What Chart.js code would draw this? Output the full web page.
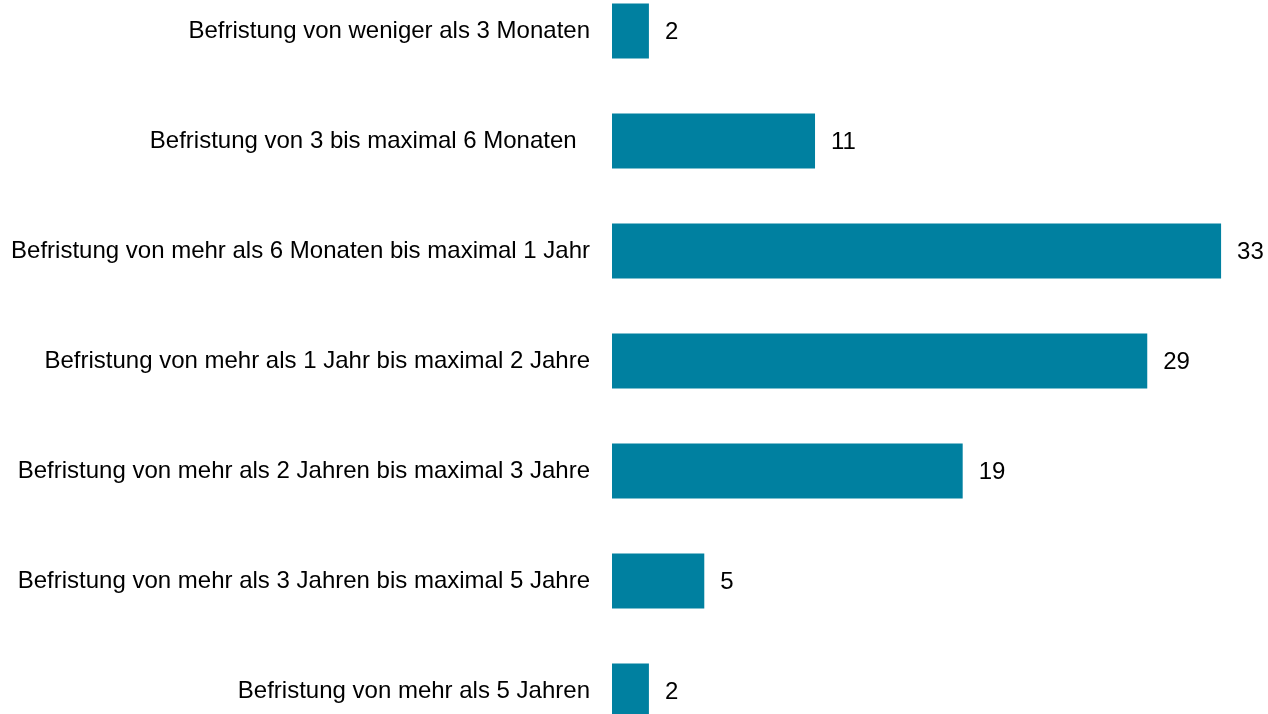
<!DOCTYPE html>
<html>
<head>
<meta charset="utf-8">
<script src="https://cdn.jsdelivr.net/npm/chart.js@4"></script>
<style>
  html, body { margin: 0; padding: 0; background: #fff; }
  #wrap { width: 1268px; height: 714px; }
</style>
</head>
<body>
<div id="wrap"><canvas id="chart" width="1268" height="714"></canvas></div>
<script>
const categories = [
  "Befristung von weniger als 3 Monaten",
  "Befristung von 3 bis maximal 6 Monaten  ",
  "Befristung von mehr als 6 Monaten bis maximal 1 Jahr",
  "Befristung von mehr als 1 Jahr bis maximal 2 Jahre",
  "Befristung von mehr als 2 Jahren bis maximal 3 Jahre",
  "Befristung von mehr als 3 Jahren bis maximal 5 Jahre",
  "Befristung von mehr als 5 Jahren"
];
const values = [2, 11, 33, 29, 19, 5, 2];

const FONT = "'Liberation Sans', Arial, sans-serif";

// Zahlen rechts neben den Balken
const valueLabels = {
  id: "valueLabels",
  afterDatasetsDraw(chart) {
    const ctx = chart.ctx;
    const meta = chart.getDatasetMeta(0);
    ctx.save();
    ctx.font = "24px " + FONT;
    ctx.fillStyle = "#000";
    ctx.textAlign = "left";
    ctx.textBaseline = "middle";
    meta.data.forEach((bar, i) => {
      ctx.fillText(String(values[i]), bar.x + 16, bar.y + 1);
    });
    ctx.restore();
  }
};

new Chart(document.getElementById("chart").getContext("2d"), {
  type: "bar",
  data: {
    labels: categories,
    datasets: [{
      data: values,
      backgroundColor: "#0080a0",
      borderWidth: 0,
      categoryPercentage: 1,
      barPercentage: 0.5,
      clip: false
    }]
  },
  options: {
    indexAxis: "y",
    responsive: false,
    animation: false,
    layout: { padding: { top: 31, bottom: 23, right: 10, left: 0 } },
    plugins: { legend: { display: false }, tooltip: { enabled: false } },
    scales: {
      x: {
        display: false,
        min: 0,
        max: 35
      },
      y: {
        offset: false,
        grid: { display: false, drawTicks: false },
        border: { display: false },
        ticks: {
          padding: 22,
          color: "#000",
          font: { family: FONT, size: 24 }
        },
        afterFit(scale) {
          scale.width = 612;
          scale.paddingTop = 0;
          scale.paddingBottom = 0;
        }
      }
    }
  },
  plugins: [valueLabels]
});
</script>
</body>
</html>
